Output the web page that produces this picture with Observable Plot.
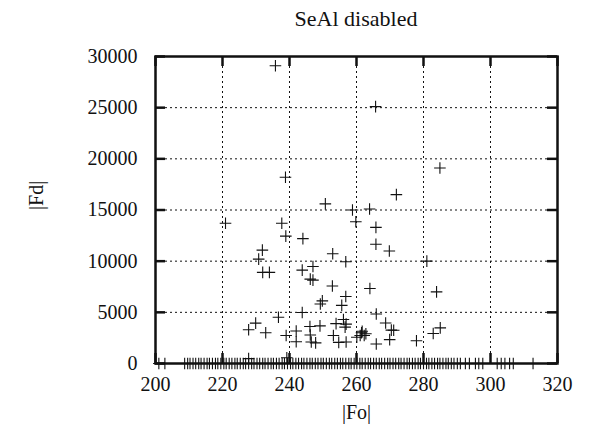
<!DOCTYPE html>
<html><head><meta charset="utf-8">
<script src="https://cdn.jsdelivr.net/npm/d3@7"></script>
<script src="https://cdn.jsdelivr.net/npm/@observablehq/plot@0.6"></script>
<style>
body{margin:0;background:#fff;}
#title{width:468px;margin-left:122px;height:32px;padding-top:8px;text-align:center;font-family:"Times New Roman","Liberation Serif",Tinos,"DejaVu Serif",serif;font-size:22px;line-height:22px;color:#111;}
</style></head><body>
<div id="title"></div>
<div id="chart"></div>
<script>
const title = "SeAl disabled";
const xLabel = "|Fo|";
const yLabel = "|Fd|";
const xTicks = [200, 220, 240, 260, 280, 300, 320];
const yTicks = [0, 5000, 10000, 15000, 20000, 25000, 30000];

// scattered points (|Fo|, |Fd|)
const fo = [235.8, 265.7, 284.9, 238.8, 271.9, 250.7, 263.9, 258.8, 220.9, 237.7,
            259.8, 265.8, 238.9, 244.0, 265.8, 231.9, 269.8, 252.9, 230.8, 256.8,
            281.0, 247.0, 243.8, 232.0, 234.0, 246.2, 247.0, 252.8, 264.0, 283.9,
            256.8, 249.8, 249.2, 255.6, 265.9, 243.8, 236.7, 256.1, 253.9, 256.9,
            229.9, 227.8, 232.9, 239.0, 242.0, 242.0, 246.1, 246.2, 246.5, 247.8,
            249.1, 256.6, 253.1, 268.7, 270.4, 271.1, 261.7, 261.1, 260.1, 262.3,
            261.5, 262.8, 256.9, 254.7, 269.9, 265.9, 277.9, 282.9, 285.0, 227.8,
            239.2];
const fd = [29100, 25100, 19100, 18200, 16500, 15600, 15100, 15000, 13700, 13700,
            13850, 13300, 12450, 12200, 11650, 11080, 11000, 10720, 10200, 9950,
            10000, 9480, 9120, 8900, 8900, 8250, 8150, 7580, 7330, 7000,
            6550, 6120, 5820, 5680, 4830, 4980, 4520, 4300, 3900, 3850,
            3950, 3300, 3000, 2740, 3180, 2120, 3620, 2780, 2100, 2020,
            3680, 3550, 2740, 3960, 3260, 3250, 3150, 2740, 2570, 2740,
            3000, 2900, 2100, 2060, 2330, 1900, 2230, 2930, 3480, 480,
            560];

// points lying on |Fd| ≈ 0 (dense row along the axis)
const zeroFo = [201.0, 202.8, 208.7, 209.6, 210.3, 211.2, 212.0, 212.9, 213.6, 214.5,
                215.4, 216.1, 217.0, 217.9, 218.6, 219.5, 220.4, 221.1, 222.0, 222.8,
                223.7, 224.4, 225.3, 226.2, 226.9, 227.8, 228.7, 229.4, 230.3, 231.1,
                232.0, 232.7, 233.6, 234.5, 235.2, 236.1, 236.9, 237.8, 238.5, 239.4,
                240.3, 241.0, 241.9, 242.7, 243.6, 244.3, 245.2, 246.1, 246.8, 247.7,
                248.5, 249.4, 250.1, 251.0, 251.9, 252.6, 253.5, 254.3, 255.2, 255.9,
                256.8, 257.7, 258.4, 259.3, 260.1, 261.0, 261.7, 262.6, 263.5, 264.2,
                265.1, 265.9, 266.8, 267.5, 268.4, 269.3, 270.0, 270.9, 271.7, 272.6,
                273.3, 274.2, 275.1, 275.8, 276.7, 277.5, 278.4, 279.1, 280.0, 280.9,
                281.6, 282.5, 283.3, 284.2, 284.9, 285.8, 286.7, 287.4, 288.3, 289.1,
                290.1, 291.0, 292.5, 293.7, 295.5, 296.5, 297.7, 302.0, 303.2, 304.3,
                305.7, 306.8, 312.7];

document.getElementById("title").textContent = title;

const points = fo.map((x, i) => ({fo: x, fd: fd[i]}))
  .concat(zeroFo.map(x => ({fo: x, fd: 0})));

const plus = {
  draw(ctx, size) {
    const r = Math.sqrt(size / Math.PI);
    ctx.moveTo(-r, 0); ctx.lineTo(r, 0);
    ctx.moveTo(0, -r); ctx.lineTo(0, r);
  }
};

const W = 590, H = 402, mL = 155, mR = 33, mT = 16, mB = 79;
const iw = W - mL - mR, ih = H - mT - mB, tk = 10;
const ink = "#111";
const serif = "'Times New Roman', 'Liberation Serif', Tinos, 'DejaVu Serif', serif";

const chart = Plot.plot({
  width: W, height: H,
  marginLeft: mL, marginRight: mR, marginTop: mT, marginBottom: mB,
  style: {fontFamily: serif, fontSize: "20px", color: ink, background: "#fff"},
  x: {domain: [xTicks[0], xTicks[xTicks.length - 1]]},
  y: {domain: [yTicks[0], yTicks[yTicks.length - 1]]},
  marks: [
    Plot.gridX(xTicks.slice(1, -1), {stroke: ink, strokeOpacity: 1, strokeWidth: 1, strokeDasharray: "2,3"}),
    Plot.gridY(yTicks.slice(1, -1), {stroke: ink, strokeOpacity: 1, strokeWidth: 1, strokeDasharray: "2,3"}),
    Plot.tickX(xTicks, {x: d => d, insetTop: ih - tk, stroke: ink, strokeWidth: 2.5}),
    Plot.tickX(xTicks, {x: d => d, insetBottom: ih - tk, stroke: ink, strokeWidth: 2.5}),
    Plot.tickY(yTicks, {y: d => d, insetRight: iw - tk, stroke: ink, strokeWidth: 2.5}),
    Plot.tickY(yTicks, {y: d => d, insetLeft: iw - tk, stroke: ink, strokeWidth: 2.5}),
    Plot.axisX(xTicks, {tickSize: 0, tickPadding: 13, label: null, fontSize: 20, fontFamily: serif, tickFormat: d => String(d)}),
    Plot.axisY(yTicks, {tickSize: 0, tickPadding: 18, label: null, fontSize: 20, fontFamily: serif, tickFormat: d => String(d)}),
    Plot.dot(points, {x: "fo", y: "fd", symbol: plus, r: 5.8, stroke: ink, fill: "none", strokeWidth: 1.1}),
    Plot.frame({stroke: ink, strokeWidth: 2.5}),
    Plot.text([xLabel], {frameAnchor: "bottom", dy: 55, fontSize: 20, fontFamily: serif, fill: ink}),
    Plot.text([yLabel], {frameAnchor: "left", dx: -119, rotate: -90, fontSize: 20, fontFamily: serif, fill: ink})
  ]
});
document.getElementById("chart").appendChild(chart);
</script>
</body></html>
